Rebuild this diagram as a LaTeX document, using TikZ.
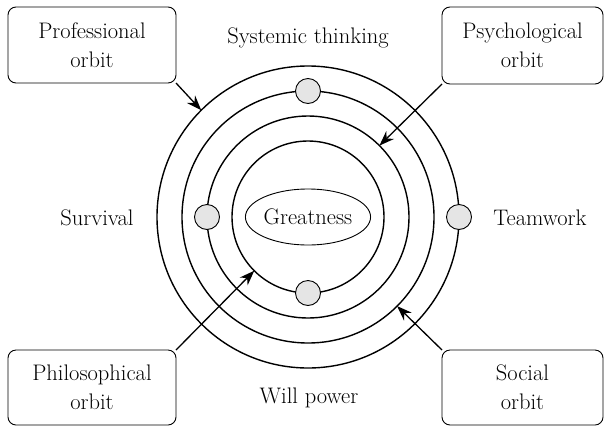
\documentclass[tikz,border=0pt]{standalone}
\usetikzlibrary{shapes.geometric,arrows.meta}
\begin{document}
\begin{tikzpicture}[x=1pt,y=-1pt,
  orbit/.style={circle,draw,line width=1.4pt,inner sep=0pt,outer sep=0pt},
  planet/.style={circle,draw,line width=0.9pt,fill=black!10,minimum size=25pt,inner sep=0pt},
  tag/.style={draw,rounded corners=8pt,line width=0.9pt,align=center,inner sep=0pt,outer sep=0pt,
    font=\fontsize{22.5}{29}\selectfont},
  lbl/.style={font=\fontsize{22.5}{26}\selectfont},
  pointer/.style={line width=1.3pt,-{Stealth[length=15pt,width=11pt]}}]
\useasboundingbox (0,0) rectangle (604,426);
\coordinate (c) at (308,217);

% concentric orbits
\node[orbit,minimum size=302pt] (o4) at (c) {};
\node[orbit,minimum size=252pt] (o3) at (c) {};
\node[orbit,minimum size=202pt] (o2) at (c) {};
\node[orbit,minimum size=152pt] (o1) at (c) {};

% centre
\node[ellipse,draw,line width=0.9pt,minimum width=123pt,minimum height=56pt,inner sep=0pt,
  font=\fontsize{22.5}{26}\selectfont] (core) at (c) {Greatness};

% planets on the orbits
\node[planet] (pTop) at (o3.90) {};
\node[planet] (pLeft) at (o2.180) {};
\node[planet] (pBottom) at (o1.270) {};
\node[planet] (pRight) at (o4.0) {};

% direction labels
\node[lbl] (sys) at (308,38) {Systemic thinking};
\node[lbl] (surv) at (97,218) {Survival};
\node[lbl] (team) at (540,218) {Teamwork};
\node[lbl] (will) at (309,398) {Will power};

% orbit boxes
\node[tag,minimum width=168pt,minimum height=76pt] (prof) at (92,45) {Professional\\orbit};
\node[tag,minimum width=161pt,minimum height=77pt] (psy) at (522.5,45.5) {Psychological\\orbit};
\node[tag,minimum width=168pt,minimum height=75pt] (phil) at (92,387.5) {Philosophical\\orbit};
\node[tag,minimum width=161pt,minimum height=75pt] (soc) at (522.5,387.5) {Social\\orbit};

% pointers from boxes to their orbits
\draw[pointer] (prof.south east) -- (o4.135);
\draw[pointer] (psy.south west) -- (o2.45);
\draw[pointer] (phil.north east) -- (o1.225);
\draw[pointer] (soc.north west) -- (o3.315);
\end{tikzpicture}
\end{document}
